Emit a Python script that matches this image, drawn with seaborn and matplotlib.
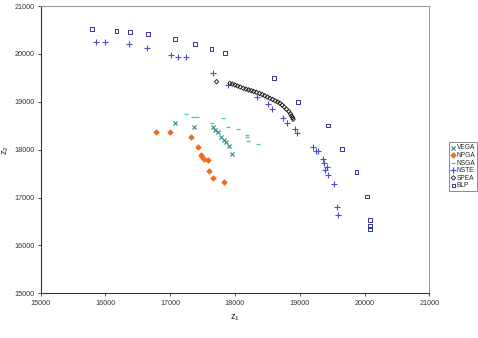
import numpy as np
import pandas as pd
import matplotlib
matplotlib.use("Agg")
import matplotlib.pyplot as plt
import seaborn as sns

# Values (z1, z2 pairs per method)
vega_x = [17073, 17370, 17654, 17690, 17741, 17778, 17829, 17860, 17906, 17948]
vega_y = [18551, 18480, 18480, 18411, 18363, 18259, 18203, 18154, 18077, 17910]

npga_x = [16779, 16995, 17315, 17432, 17469, 17494, 17525, 17577, 17602, 17664, 17833]
npga_y = [18363, 18363, 18259, 18056, 17889, 17841, 17800, 17785, 17562, 17403, 17326]

nsga_x = [17242, 17355, 17407, 17818, 17650, 17886, 18049, 18179, 18188, 18204, 18349]
nsga_y = [18739, 18689, 18676, 18668, 18560, 18468, 18438, 18300, 18259, 18182, 18119]

nste_x = [15853, 15992, 16367, 16636, 17006, 17114, 17242, 17664, 17895, 18343,
          18512, 18565, 18744, 18806, 18924, 18955, 19202, 19248, 19284, 19352,
          19372, 19414, 19387, 19438, 19531, 19577, 19593]
nste_y = [20255, 20242, 20200, 20117, 19977, 19942, 19929, 19595, 19351, 19100,
          18948, 18856, 18668, 18564, 18432, 18355, 18056, 17979, 17979, 17806,
          17729, 17645, 17576, 17472, 17278, 16797, 16637]

spea_x = [17716, 17921, 17960, 18000, 18040, 18080, 18127, 18170, 18210, 18250,
          18290, 18333, 18380, 18420, 18460, 18500, 18539, 18580, 18620, 18660,
          18693, 18730, 18760, 18796, 18830, 18855, 18873, 18890, 18898]
spea_y = [19420, 19386, 19370, 19350, 19330, 19310, 19282, 19265, 19248, 19232,
          19215, 19198, 19175, 19150, 19125, 19100, 19073, 19050, 19020, 18995,
          18969, 18930, 18890, 18843, 18800, 18750, 18704, 18670, 18635]

blp_x = [15796, 16173, 16378, 16660, 17073, 17381, 17639, 17844, 18605, 18975,
         19438, 19650, 19877, 20040, 20086, 20086, 20086]
blp_y = [20514, 20485, 20464, 20415, 20311, 20207, 20102, 20012, 19503, 19002,
         18508, 18008, 17528, 17019, 16532, 16400, 16339]

x_ticks = [15000, 16000, 17000, 18000, 19000, 20000, 21000]
y_ticks = [15000, 16000, 17000, 18000, 19000, 20000, 21000]

sns.set_style("white")
plt.rcParams['font.family'] = ['Liberation Sans', 'DejaVu Sans']

fig = plt.figure(figsize=(4.78, 3.38), dpi=100)
ax = fig.add_axes([0.0851, 0.1322, 0.8130, 0.8500])

# (label, x, y, marker, size, face, edge, linewidth)
series = [
    ("VEGA", vega_x, vega_y, "x", 9, "#2f8f8f", "#2f8f8f", 0.8),
    ("NPGA", npga_x, npga_y, "D", 8, "#f26b1d", "#f26b1d", 0.5),
    ("NSGA", nsga_x, nsga_y, "_", 12, "#33cccc", "#33cccc", 0.9),
    ("NSTE", nste_x, nste_y, "+", 15, "#4a4ad8", "#4a4ad8", 0.8),
    ("SPEA", spea_x, spea_y, "D", 5, "none", "#111111", 0.6),
    ("BLP", blp_x, blp_y, "s", 7, "none", "#333399", 0.7),
]

for name, xs, ys, mk, sz, fc, ec, lw in series:
    df = pd.DataFrame({"z1": xs, "z2": ys})
    sns.scatterplot(data=df, x="z1", y="z2", ax=ax, marker=mk, s=sz,
                    color=ec, facecolor=fc, edgecolor=ec, linewidth=lw,
                    label=name)

ax.set_xlim(15000, 21000)
ax.set_ylim(15000, 21000)
ax.set_xticks(x_ticks)
ax.set_yticks(y_ticks)
ax.tick_params(axis="both", labelsize=5.2, colors="#333333", length=2.5,
               width=0.6, direction="out", bottom=True, left=True, pad=2)

for side in ["left", "bottom"]:
    ax.spines[side].set_color("#333333")
    ax.spines[side].set_linewidth(0.8)
for side in ["top", "right"]:
    ax.spines[side].set_color("#999999")
    ax.spines[side].set_linewidth(0.8)

ax.set_xlabel(r"$\mathregular{z_1}$", fontsize=6.5, labelpad=4)
ax.set_ylabel(r"$\mathregular{z_2}$", fontsize=6.5)
ax.yaxis.set_label_coords(-0.077, 0.5)

leg = ax.legend(loc="upper left", bbox_to_anchor=(1.05, 0.525), fontsize=4.8,
                frameon=True, fancybox=False, borderpad=0.3, labelspacing=0.08,
                handletextpad=0.1, handlelength=0.8, borderaxespad=0)
leg.get_frame().set_edgecolor("#555555")
leg.get_frame().set_linewidth(0.6)

fig.savefig("out.png", dpi=100)
